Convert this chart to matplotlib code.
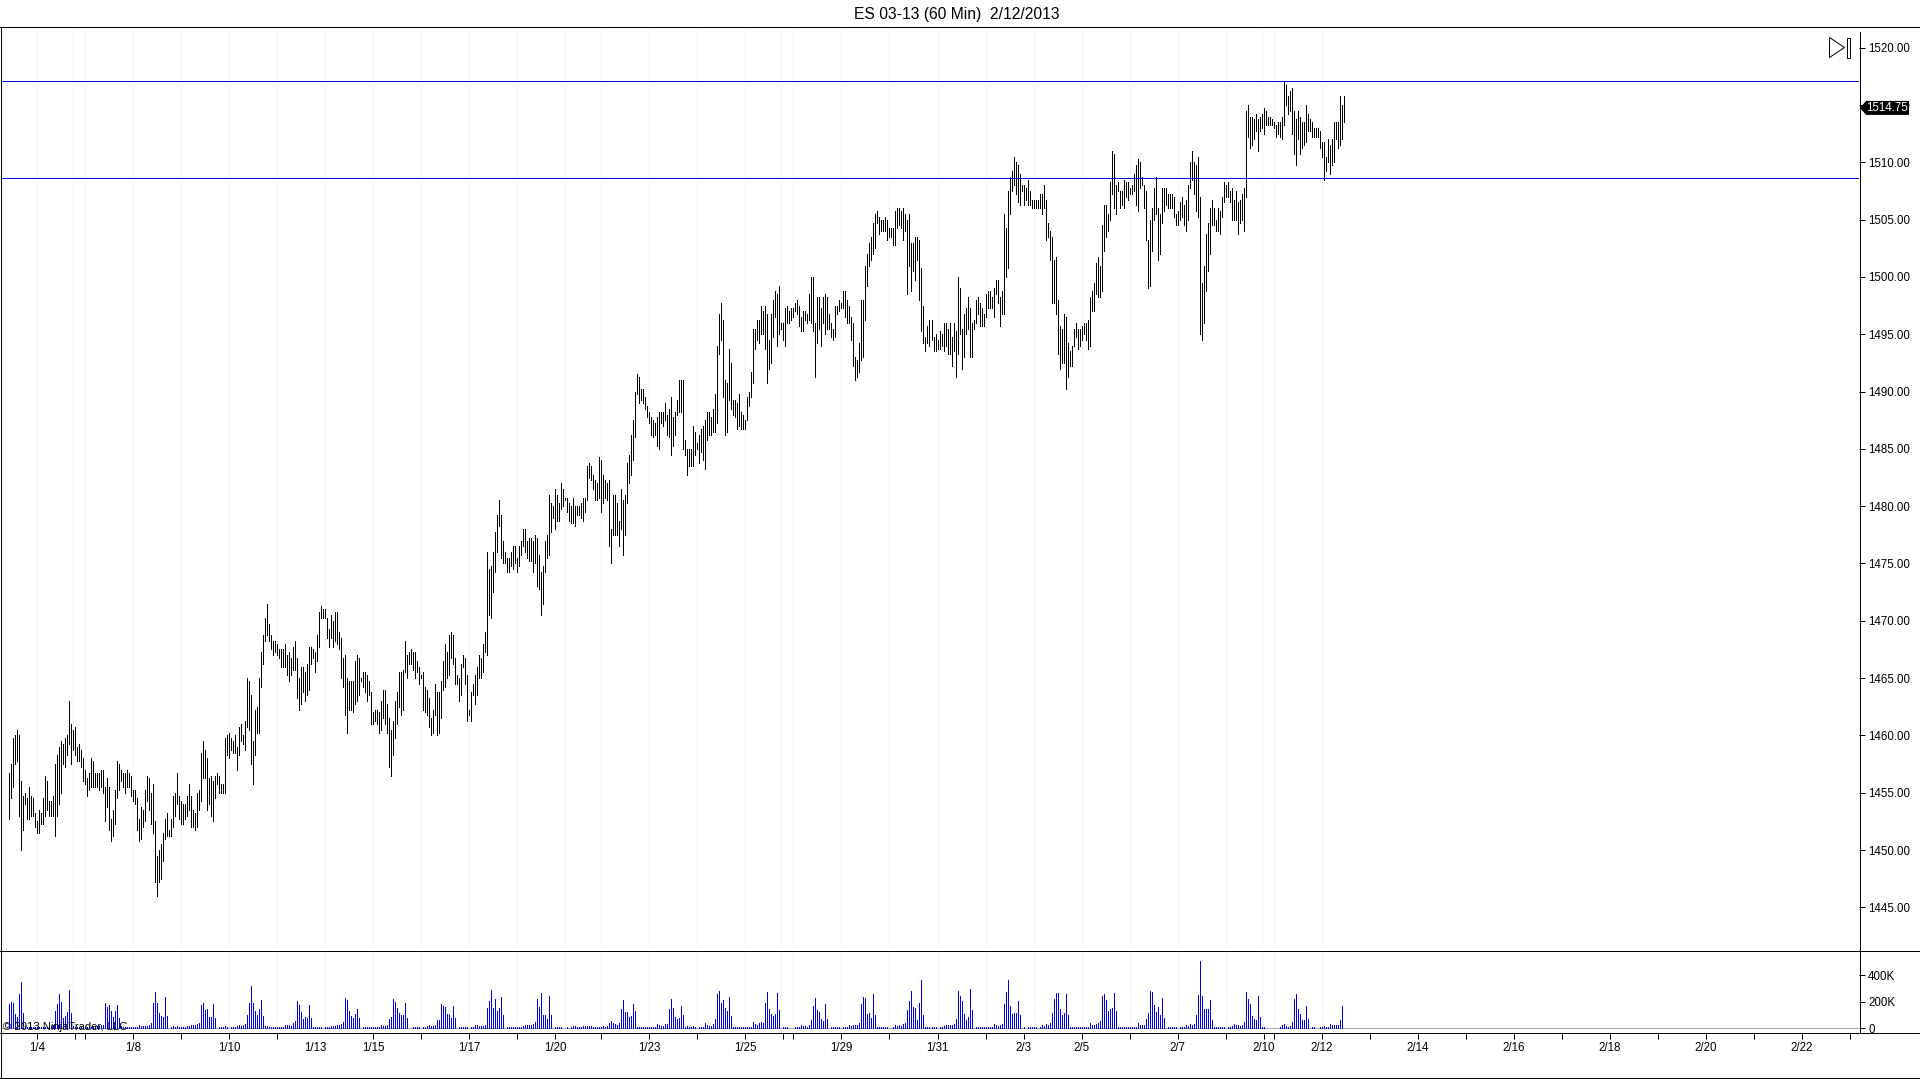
import matplotlib
matplotlib.use("Agg")
import matplotlib.pyplot as plt
from matplotlib.patches import Polygon, Rectangle

plt.rcParams['font.family'] = ['Liberation Sans', 'DejaVu Sans']

TITLE = "ES 03-13 (60 Min)  2/12/2013"
COPYRIGHT = "\u00a9 2013 NinjaTrader, LLC"
LEVELS = [1517.1, 1508.6]
LAST_PRICE = 1514.75

# high, low pairs of the hourly bars, in reading order
hl_1 = [1456.75,1452.75,1457.5,1454.5,1459.75,1455.5,1460,1457.5,1460.5,1457.75,1460,1453,1456,1450,1454.75,1451.75,
1455,1454,1454.5,1452.75,1455.5,1452.75,1454.75,1453,1454.5,1453,1453.25,1452,1452.5,1451.5,1453.5,1451.5,
1453.25,1452.25,1454.5,1452.25,1456.5,1453,1456,1453.5,1454.25,1453,1454.25,1453,1454.75,1453,1457.5,1451.25,
1458.25,1453,1459,1454,1459.5,1455,1459.25,1457.5,1459.75,1457.25,1460,1458.25,1463,1459.25,1461,1457.5,
1460.5,1458.75,1460.75,1458.25,1459,1457.75,1459.25,1457.75,1458.75,1457.25,1458,1456,1457,1455.75,1456.25,1454.75,
1456.75,1455.25,1458,1455.5,1457.75,1455.5,1456.75,1455.5,1456.75,1455.5,1456.75,1455.25,1457,1455.5,1457,1455,
1455.5,1452.5,1456.25,1453.75,1455.5,1451.75,1452.75,1450.75,1453.5,1451.25,1455.25,1452.25,1457.75,1454.5,1457.5,1455.25,
1457,1456,1456.75,1455.5,1456.75,1455,1457,1455.5,1456.75,1455.5,1456.5,1454.75,1455.25,1454.25,1455.25,1454,
1454.5,1451.75,1452.75,1450.75,1453.75,1451,1453.5,1452,1455.25,1452.5,1456.5,1454.25,1456.25,1453.5,1455,1452.25,
1455.75,1451.5,1452.5,1447.25,1449.5,1446,1450,1447.25,1450.5,1447.5,1451.5,1449,1452.75,1451,1453.25,1451.25,
1451.75,1451.25,1452.75,1451.25,1454.75,1452,1455,1453,1456.75,1454,1454.75,1452.75,1454.25,1452.25,1454,1452.25,
1454,1452.75,1454.75,1453,1455.75,1453.5,1454.75,1452,1453.5,1452,1453.25,1451.75,1455,1452,1455.25,1453.5,
1458.5,1454.25,1459.5,1456.25,1458.75,1456.25,1458,1453.5,1456.25,1454,1456.5,1453,1456,1452.5,1456.5,1454.5,
1456.75,1455.75,1456.5,1455,1455.75,1455,1455.75,1455,1459.75,1455,1460,1458.25,1460.25,1458,1459.75,1458.75,
1459.5,1458.5,1460,1458.5,1459,1457,1460.75,1458.25,1461,1459.5,1460,1459.25,1461.25,1458.75]
hl_2 = [1465,1460.75,1464.75,1460.5,1463.5,1457.5,1459.5,1455.75,1462.25,1458.25,1462.5,1460.25,1465,1460.25,1467.25,1464.25,
1468.75,1466.25,1470.25,1468.25,1471.5,1468.75,1469.75,1468.25,1468.75,1467.5,1468.25,1467,1468.25,1467.25,1468,1467,
1467.5,1466.75,1467.5,1466,1467.5,1466,1468,1466,1467,1465.25,1467.25,1464.75,1466.75,1465.25,1467.75,1465.75,
1468.25,1465.75,1466.75,1463.25,1465,1462.25,1466,1462.75,1466,1463.75,1465.5,1463,1466.25,1463.5,1467.75,1464,
1467.75,1466.25,1467.5,1466.75,1467.25,1465.5,1468.75,1466.5,1470.75,1467.75,1471.25,1470.25,1471,1470.25,1471,1470.25,
1470.25,1468.5,1469.25,1467.75,1470.5,1468.5,1470,1467.75,1470.75,1468.25,1470.75,1468,1469,1467.5,1468.5,1465,
1466.75,1464.25,1467,1461.75,1465,1460.25,1464.75,1462.25,1464.75,1462.25,1464.75,1462,1466.5,1462.75,1467,1463,
1466.75,1463.5,1465,1464.75,1465.5,1464.25,1465.5,1463.75,1465.25,1463,1464.75,1463.5,1463.75,1461,1462,1461,
1462.25,1461.25,1462.25,1461,1462,1460.25,1463,1460.5,1464,1461.5,1464,1461,1462.75,1460.25,1461.5,1457.25,
1460.5,1456.5,1461.25,1458.25,1463,1459.75,1463.75,1461,1465.5,1462.5,1465.5,1461.75,1465.75,1462.25,1468.25,1465.5,
1467,1465,1467.25,1466.25,1467.5,1466.25,1467.25,1465.75,1467.25,1465,1466.5,1465.5,1466,1464.5]
hl_3 = [1465.25,1465,1465.5,1462.25,1464.25,1462,1464,1461.75,1463.25,1460.75,1461.5,1460,1462.25,1460.25,1464.5,1461.75,
1463.75,1460,1463.75,1460.25,1464.75,1461.5,1466.5,1464,1468,1464.25,1467.25,1465,1468.75,1465.25,1469,1466.75,
1468.75,1466.25,1466.75,1464.5,1465.25,1464.5,1465,1463,1466.25,1463.5,1467,1466,1466.75,1464.5,1465.25,1461.25,
1462.25,1461.75,1463.75,1461.25,1464.5,1463.5,1465.25,1462.75,1466,1463.5,1467,1465,1466.75,1465,1468,1465.5,
1469,1467.25,1476,1467,1474.5,1470.5,1474.75,1470.25,1476,1472.5,1477.75,1474.25,1479.25,1476,1480.5,1478.25,
1479.25,1475.5,1477,1475,1476,1475,1475.5,1474.25,1475.5,1474.25,1476,1474.75,1476.5,1474.5,1476.5,1475,
1475.5,1474.25,1476.5,1474.75,1477,1475.75,1478,1476.5,1478,1476,1477,1475.5,1477.25,1475.25,1477.25,1475.25,
1477,1474.25,1477.5,1475,1477.25,1473,1475.75,1472.75,1474.25,1470.5,1474.75,1471.5,1477,1474.25,1477.5,1475.5,
1481,1475.75,1480.25,1477.75,1480,1479,1481.5,1478,1481,1478.75,1480.25,1478.75,1482,1479.75,1481.5,1480,
1480.75,1480.5,1480.75,1479.5,1480.25,1478.75]
hl_4 = [1480,1478.5,1480.75,1478.5,1480,1478.25,1480,1479.25,1480,1479.25,1480.25,1479,1480.75,1478.75,1480.75,1479.5,
1483.5,1480.5,1483.75,1482.5,1483.5,1482.25,1482.75,1481.5,1482.25,1480.5,1482,1480.5,1484.25,1480.75,1484,1479.5,
1482.75,1480.25,1482.25,1480.75,1482,1480.5,1482.25,1476.5,1478,1475,1481,1477.5,1481,1477.5,1480.25,1477.5,
1478.75,1476.5,1481.5,1478,1480.5,1475.75,1481,1477.5,1483.75,1480.25,1484.5,1482,1486.25,1482.75,1487.5,1484,
1490,1486,1491.5,1489.75,1491.25,1489,1490.25,1489.25,1490.25,1489,1489.5,1488.5,1488.75,1487.75,1488.25,1487.25,
1487.75,1486.25,1487.5,1486,1487.25,1486.25,1487.75,1485.25,1488.25,1485,1488.25,1487.25,1488.25,1487,1489,1487.5,
1488,1486.25,1488.5,1486,1489.5,1484.5,1487.75,1485.25,1488.25,1486.25,1489.25,1488,1491,1488.25,1491,1488.25,
1491,1485,1485.75,1484.5,1485,1482.75,1485,1483.5,1485,1483.5,1487,1483.5,1486.5,1484.5,1485.5,1485,
1486.25,1483.75,1486.75,1484.75,1487,1484,1487.5,1483.25,1488.25,1485.75,1488.25,1486.25]
hl_5 = [1487.75,1486.25,1488.5,1486.5,1489.75,1486.5,1494,1487.25,1496.75,1493.25,1497.75,1494.5,1496.25,1489.5,1491,1486.25,
1490.75,1486.5,1493.75,1489.25,1492.5,1488.5,1489.25,1488,1489.25,1487.75,1489,1486.75,1489.75,1487,1488.25,1486.75,
1488,1486.75,1487.5,1486.75,1489.5,1487.5,1490,1488.75,1491.75,1489.5,1495.5,1490.75,1495.5,1493.75,1496.25,1494.5,
1496.25,1494.25,1497.5,1495,1497,1495,1497.5,1493.75,1496.75,1490.75,1494.5,1492,1496.75,1492.5,1498,1494.75,
1498.75,1496.5,1498.5,1494,1499.25,1495,1496,1495.5,1496,1494.5,1497.25,1494,1497.5,1496,1497,1496,
1497.25,1496.25,1497.25,1496.5,1497.75,1497,1498,1496.75,1497.5,1495.75,1496.5,1495.25,1497,1495.25,1497,1496.25,
1496.75,1496,1498.5,1496.25,1500,1496,1500,1495.25,1496,1491.25,1498.25,1494.25,1498.25,1495.5,1497.25,1494,
1498.25,1496,1498.5,1495,1498.25,1495.5,1496.75,1495.5,1496,1494.75,1495.5,1494.5,1497.5,1494.75,1497.5,1496.75,
1498,1497,1497.75,1497.25,1498.75,1497.25,1498.75,1496.5,1498,1496,1497.5,1496]
hl_6 = [1496.5,1494.5,1496,1492.25,1493,1491,1492.75,1491.25,1494.25,1491.75,1498,1492.75,1498,1493,1501,1496.25,
1502,1499.25,1503,1501,1503.5,1501.5,1504.75,1502,1505.5,1502.5,1505.75,1504.75,1505.25,1503.75,1505,1504,
1505,1504,1505.25,1504,1505,1503.25,1504.25,1503.5,1504.25,1503.5,1504.25,1502.75,1505.75,1502.75,1506,1504.25,
1506,1504.5,1505.75,1504.25,1506,1503.25,1505.5,1504,1505,1498.5,1505.5,1501,1503,1498.75,1503,1500.5,
1503.5,1499.75,1503.5,1501.5,1503.25,1498,1500.75,1495.25,1497.5,1494.25,1494.75,1493.5,1495.75,1494.25,1496.25,1494,
1496.25,1494.5,1494.75,1493.5,1495,1493.5,1494.5,1493.75,1495.25,1493.75,1495,1494,1496,1493.5,1496,1494,
1495.5,1493.25,1496,1493.25,1494.75,1492.25,1496,1493.5,1495.25,1491.25,1500,1493.25,1499,1495,1495.5,1492,
1496.75,1493,1497.25,1495,1498.25,1495.5,1497.25,1493,1496,1493,1496.25,1495.5,1498,1496,1498.25,1496.75,
1497.75,1495.75,1497.25,1495.75,1496.75,1495.75,1498.5,1496.5,1498.75,1497.25,1498.75,1497.25]
hl_7 = [1498.25,1497.25,1499,1496.5,1499.75,1498.5,1499.75,1497.75,1498.25,1495.75,1498.75,1496.75,1505.5,1496.75,1504.25,1500,
1507.5,1500.75,1508.75,1505.5,1509.25,1507.5,1510.5,1508,1510,1507.25,1509.75,1506.5,1509,1506.25,1508,1507.5,
1508,1506.25,1507.75,1506.75,1508.5,1506.25,1507.5,1506.25,1506.75,1506,1506.75,1506,1506.75,1506,1506.75,1506,
1507.25,1506,1507.25,1505.5,1508,1506,1506.75,1503.25,1504.75,1503.5,1504,1501.5,1503.5,1497.75,1501.5,1497.75,
1501.75,1496.75,1498,1493.25,1495.75,1492,1495.5,1492.5,1496.75,1492.5,1496.5,1490.25,1494.25,1491.25,1493.5,1492.25,
1494,1492.25,1495.5,1494,1496,1494.75,1495.5,1493.75,1495.5,1494,1495.75,1494.5,1496,1495,1496,1494.5,
1496.25,1493.75,1498.25,1494,1498.75,1497,1499.5,1497,1501.25,1498.5,1501.75,1498.25,1501,1498.25,1504.5,1498.75,
1506.25,1502.25,1506.25,1503.5,1505.5,1504,1508.25,1505,1511,1507.25,1510.75,1506,1508,1505.5,1508.25,1507.5,
1507.5,1506,1507.5,1506.25,1508.5,1506,1508.25,1507,1508.25,1506.75,1507.75,1507.25,1508,1507.25,1509,1507.5,
1509.75,1506.25,1510.25,1505.75,1510,1507.75,1508.75,1508,1508,1506,1507.5,1503.25,1503.25,1499,1505,1499.25]
hl_8 = [1506,1502.25,1507.75,1505,1508.75,1505.5,1506,1501.5,1505.5,1502,1507.75,1504.75,1507.75,1505.75,1507.75,1506.25,
1507.25,1506,1507.25,1506,1507.25,1506,1507,1505.25,1505.5,1504.5,1505.75,1504.5,1506.5,1505,1507,1505.25,
1506.25,1504.5,1506.75,1504,1508,1505,1510,1507.75,1511,1508.5,1510,1507.25,1509.75,1505.75,1510.5,1505.25,
1507,1495,1499.5,1494.5,1501,1496,1503.75,1498.75,1504.75,1500.5,1506,1502,1506.75,1504.5,1506,1504.5,
1505,1504,1506,1504,1505.75,1503.75,1507,1505.25,1508.25,1506.5,1508,1507,1508.25,1507,1507.5,1506.5,
1507.75,1505,1506.75,1505,1507.5,1505,1506.5,1503.75,1506.75,1504.75,1507.25,1505,1507.75,1504,1514.5,1507,
1515,1512.25,1514,1511.25,1514,1511.5,1513.75,1512,1514.25,1512.75,1513.75,1511,1514,1512.75,1514.25,1513,
1514.75,1512.5,1514.5,1513.25,1514,1513.25,1514,1513.25,1513.75,1513.25,1513.5,1513,1513.25,1512.25,1513.5,1512.5,
1513.5,1512.25,1514,1512,1517,1513.25,1516.75,1515,1515.75,1514.25,1516.25,1514.5,1516.5,1512.5,1514.5,1510.75,
1513.75,1509.75,1514.5,1512,1514,1510.75,1513.5,1511.25,1513.5,1511.5,1515,1511.75,1514.25,1512.75,1513.75,1512.75,
1513.5,1512.25,1513,1512.25,1513,1512.25,1513,1512.25,1512.75,1511.25,1511.75,1510.5,1511.75,1508.5,1510.5,1509.25,
1512,1510,1511.5,1509,1512,1509.75,1513.5,1510,1513.5,1512,1513.5,1511.25,1515.75,1511.5,1515,1512,1515.75,1513.5]

volume_k = [180,195,188,105,82,262,352,112,15,10,10,8,10,10,8,8,10,10,10,10,12,15,20,
128,180,255,195,75,90,120,285,112,15,12,10,10,10,10,10,10,10,12,12,15,15,15,20,25,
188,158,172,128,82,128,172,75,15,10,10,10,10,10,10,10,10,20,15,15,15,18,22,38,
188,270,188,112,90,82,232,90,0,10,15,10,15,10,10,10,10,15,18,20,20,20,28,35,
172,188,135,142,82,82,180,75,0,10,10,10,15,10,0,10,10,10,18,22,18,20,32,
98,188,322,188,128,98,142,210,90,15,15,10,10,10,10,10,10,10,10,25,20,22,18,35,
52,202,172,120,68,82,75,172,75,10,10,10,10,10,0,10,10,12,15,15,15,22,25,28,
45,225,210,128,90,75,105,142,75,0,10,10,10,10,10,10,10,10,10,22,15,15,20,
68,82,218,195,150,112,98,98,188,75,0,0,10,12,10,10,0,12,10,15,22,18,15,25,
60,60,180,165,158,105,105,75,165,75,0,10,10,10,10,10,0,10,10,20,20,15,18,18,22,
150,202,292,150,218,128,150,
235,100,0,10,10,10,10,10,10,10,10,18,25,25,25,25,32,48,220,160,265,100,100,70,242,100,
0,10,10,10,10,0,0,10,0,10,15,15,12,12,12,15,15,18,18,15,12,12,12,12,12,15,12,15,
40,55,40,32,25,40,145,212,122,122,85,92,182,130,10,10,10,10,10,10,10,10,10,10,
32,25,18,18,32,32,145,220,152,85,70,78,168,100,10,18,10,10,18,10,0,
10,10,10,40,25,18,18,32,70,258,280,190,212,152,130,235,92,10,10,10,10,10,10,10,10,10,10,
48,32,25,40,48,40,190,272,145,108,92,108,265,138,0,10,10,10,0,0,0,10,10,10,25,18,18,10,25,62,
168,228,138,122,70,55,182,70,0,10,10,10,10,10,0,10,10,10,25,18,25,25,25,40,
182,235,228,108,115,78,258,100,10,10,10,10,10,10,0,0,10,25,18,25,18,32,40,
138,205,280,160,152,62,190,362,100,10,10,10,10,10,10,0,10,
10,18,25,25,25,25,32,70,280,242,205,108,62,85,295,138,0,10,10,10,10,10,10,10,10,10,
32,25,18,25,32,182,272,362,168,108,115,115,205,100,0,10,0,10,10,10,10,10,0,
10,25,18,32,25,40,115,220,265,265,145,100,115,258,100,10,10,10,10,10,10,10,10,10,10,
40,25,25,32,40,55,242,258,212,130,145,152,265,130,10,10,10,10,10,10,10,10,10,10,
40,25,25,25,70,115,280,272,175,122,160,100,228,78,0,10,10,10,10,10,0,10,10,10,
25,18,32,25,32,100,250,512,242,145,145,145,212,62,10,10,10,10,10,10,0,10,10,18,32,25,25,18,25,48,
272,220,182,92,70,62,242,85,10,10,0,0,0,0,0,0,0,10,25,32,18,10,18,48,
220,258,145,108,62,62,168,70,0,10,10,0,0,10,10,18,10,10,32,25,25,25,25,62,168]

major_ticks = [14,33,38,62,86,110,134,182,206,230,254,273,296,320,344,368,387,392,416,440,464,488,507,
               536,560,584,608,627,632,656,680,704,728,752,776,800,824,848,872,896,920]
date_labels = {14:'1/4',62:'1/8',110:'1/10',182:'1/15',230:'1/17',273:'1/20',320:'1/23',368:'1/25',416:'1/29',
               464:'1/31',507:'2/3',536:'2/5',584:'2/7',627:'2/10',656:'2/12',704:'2/14',752:'2/16',800:'2/18',
               848:'2/20',896:'2/22'}
unticked_label = (153, '1/13')
grid_bars = [14,32,38,62,86,110,134,158,182,206,230,254,278,296,320,344,368,386,392,416,440,464,488,512,
             536,560,584,608,626,632,656]
price_ticks = list(range(1445, 1525, 5))
volume_ticks = [0, 200, 400]
volume_labels = ['0', '200K', '400K']

W, H = 1920, 1079
fig = plt.figure(figsize=(W/100, H/100), dpi=100, facecolor='white')
def panel(left, top, right, bottom):
    a = fig.add_axes([left/W, 1-bottom/H, (right-left)/W, (bottom-top)/H])
    for s in a.spines.values():
        s.set_visible(False)
    a.set_xlim(-3.67, 924.67)
    a.yaxis.tick_right()
    return a

ax = panel(2, 27, 1859, 951)
vx = panel(2, 951, 1859, 1033)
ax.set_ylim(1441.19, 1521.81)
vx.set_ylim(-37, 584)

hl = hl_1 + hl_2 + hl_3 + hl_4 + hl_5 + hl_6 + hl_7 + hl_8
highs, lows = hl[::2], hl[1::2]
LW = 0.72
for a, y0, y1 in ((ax, 1441.19, 1521.81), (vx, -37, 584)):
    a.vlines(grid_bars, y0, y1, color='#f3f3f3', lw=LW, zorder=1, antialiased=False)

ax.vlines(range(len(highs)), lows, highs, color='black', lw=LW, zorder=3, antialiased=False)
for lev in LEVELS:
    ax.axhline(lev, color='#0000e6', lw=LW, zorder=4, antialiased=False)
vx.axhline(0, color='#a8a8a8', lw=LW, zorder=2, antialiased=False)
vx.vlines(range(len(volume_k)), 0, volume_k, color='#0000f0', lw=LW, zorder=3, antialiased=False)

ax.set_xticks([])
ax.set_yticks(price_ticks)
ax.set_yticklabels([f'{p:.2f}' for p in price_ticks])
vx.set_yticks(volume_ticks)
vx.set_yticklabels(volume_labels)
for a in (ax, vx):
    a.tick_params(axis='y', length=4.32, width=LW, pad=2.2, labelsize=8.3, colors='black')
vx.set_xticks(major_ticks)
vx.set_xticklabels([date_labels.get(t, '') for t in major_ticks])
vx.tick_params(axis='x', length=4.32, width=LW, pad=2.2, labelsize=8.3, colors='black')
vx.set_xticks([unticked_label[0]], labels=[unticked_label[1]], minor=True)
vx.tick_params(axis='x', which='minor', length=0, pad=6.52, labelsize=8.3, colors='black')

# frame, title and chart furniture in figure pixels
ov = fig.add_axes([0, 0, 1, 1], facecolor='none')
ov.set_xlim(0, W)
ov.set_ylim(H, 0)
ov.axis('off')
def seg(x0, y0, x1, y1, lw=LW):
    ov.plot([x0, x1], [y0, y1], color='black', lw=lw, antialiased=False, solid_capstyle='butt', clip_on=False)
seg(0, 27.0, W, 27.0); seg(0, 951.0, W, 951.0); seg(0, 1033.0, W, 1033.0); seg(0, 1078.0, W, 1078.0)
seg(0.5, 27, 0.5, 1079); seg(1919.5, 27, 1919.5, 1079)
seg(1859.5, 32, 1859.5, 1033)
ov.text(957, 15, TITLE, ha='center', va='center', fontsize=11.25, color='black')
ov.text(3, 1027, COPYRIGHT, ha='left', va='center', fontsize=8.1, color='black')
ov.add_patch(Polygon([(1829.5, 37.5), (1844.5, 47.5), (1829.5, 57.5)], closed=True, fc='white', ec='black', lw=LW))
ov.add_patch(Rectangle((1846.5, 37.5), 3, 20, fc='white', ec='black', lw=LW))

fig.canvas.draw()
py = H - ax.transData.transform((0, LAST_PRICE))[1]
ov.add_patch(Polygon([(1860, py), (1866, py-7), (1909, py-7), (1909, py+7), (1866, py+7)], closed=True,
                     fc='black', ec='none', zorder=5))
ov.text(1887.5, py, f'{LAST_PRICE:.2f}', ha='center', va='center', fontsize=8.3, color='white', zorder=6)

fig.savefig('out.png', dpi=100)
